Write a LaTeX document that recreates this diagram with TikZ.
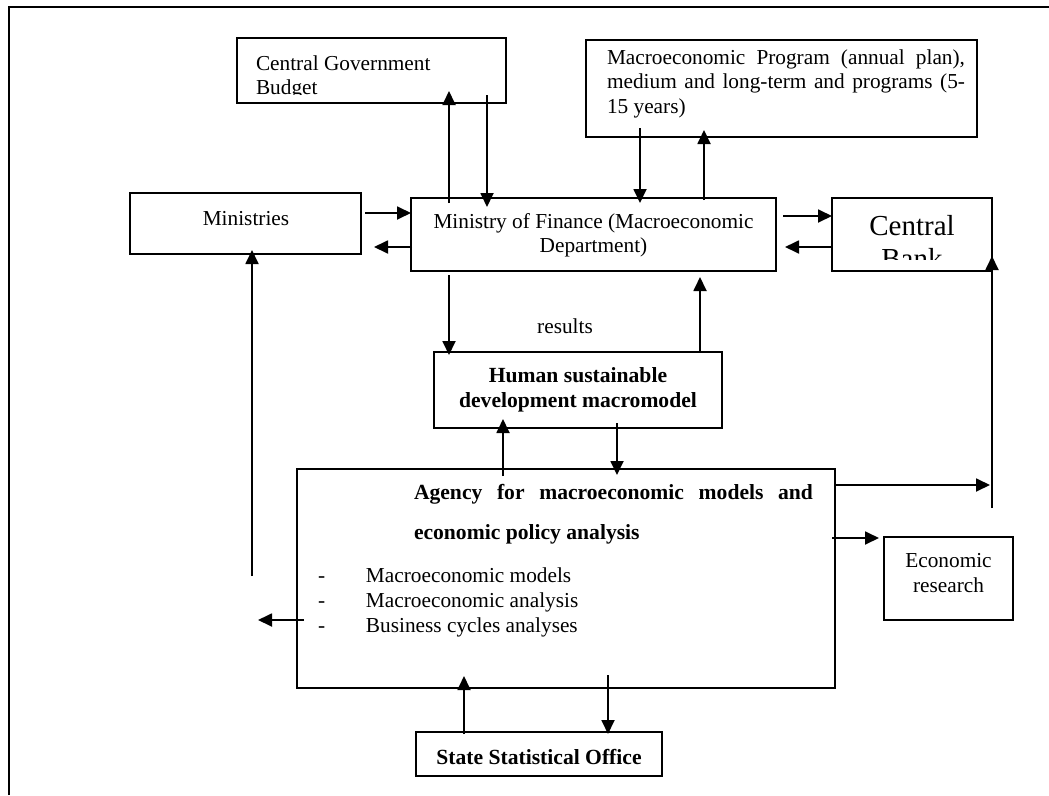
\documentclass[tikz,border=0pt]{standalone}
\usepackage{fontspec}
\setmainfont{Liberation Serif}
\usetikzlibrary{arrows.meta,calc}
\newcommand{\clines}[2]{\vtop{\baselineskip=#1pt\halign{\hfil##\hfil\cr#2\crcr}}}
\newcommand{\llines}[2]{\vtop{\baselineskip=#1pt\halign{##\hfil\cr#2\crcr}}}
\newcommand{\js}{\hskip 0.25em plus 1fil\relax}
\begin{document}
\begin{tikzpicture}[x=1pt,y=-1pt,
  box/.style={draw,line width=1.8pt,rectangle,inner sep=0pt,outer sep=0pt},
  arr/.style={line width=1.8pt,-{Triangle[length=14pt,width=13pt]}},
  txt/.style={inner sep=0pt,outer sep=0pt,font=\fontsize{21.3}{24}\selectfont},
  btxt/.style={inner sep=0pt,outer sep=0pt,font=\fontsize{21.6}{25}\selectfont\bfseries},
  bigtxt/.style={inner sep=0pt,outer sep=0pt,font=\fontsize{29}{33}\selectfont}]
\useasboundingbox (0,0) rectangle (1049,795);
% outer frame
\draw[line width=2.5pt] (9,795) -- (9,7) -- (1049,7);

% boxes
\node[box,minimum width=269pt,minimum height=65pt] (cgb) at (371.5,70.5) {};
\node[box,minimum width=391pt,minimum height=97pt] (prog) at (781.5,88.5) {};
\node[box,minimum width=231pt,minimum height=61pt] (min) at (245.5,223.5) {};
\node[box,minimum width=365pt,minimum height=73pt] (mof) at (593.5,234.5) {};
\node[box,minimum width=160pt,minimum height=73pt] (cb) at (912,234.5) {};
\node[box,minimum width=288pt,minimum height=76pt] (hsd) at (578,390) {};
\node[box,minimum width=538pt,minimum height=219pt] (agency) at (566,578.5) {};
\node[box,minimum width=129pt,minimum height=83pt] (er) at (948.5,578.5) {};
\node[box,minimum width=246pt,minimum height=44pt] (sso) at (539,754) {};

% texts
\begin{scope}
\clip (239,40) rectangle (504,94);
\node[txt,anchor=base west] (cgbt) at (256,70) {\llines{24}{Central Government\cr Budget}};
\end{scope}
\node[txt,anchor=base west] (progt) at (607,64) {\llines{24.5}{\hbox to 358pt{Macroeconomic\js Program\js (annual\js plan),}\cr \hbox to 358pt{medium\js and\js long-term\js and\js programs\js (5-}\cr 15 years)}};
\node[txt,anchor=base] (mint) at (246,225) {Ministries};
\node[txt,anchor=base] (moft) at (593.5,228) {\clines{24}{Ministry of Finance (Macroeconomic\cr Department)}};
\begin{scope}
\clip (834,200) rectangle (990,259);
\node[bigtxt,anchor=base] (cbt) at (912,235) {\clines{33}{Central\cr Bank}};
\end{scope}
\node[txt,anchor=base] (res) at (565,333) {results};
\node[btxt,anchor=base] (hsdt) at (578,382.5) {\clines{25}{Human sustainable\cr development macromodel}};
\node[btxt,anchor=base west] (agt) at (414,499) {\llines{40}{\hbox to 399pt{Agency\js for\js macroeconomic\js models\js and}\cr economic policy analysis}};
\node[txt,anchor=base west] (agl) at (318,582) {\llines{25}{\makebox[48pt][l]{-}Macroeconomic models\cr \makebox[48pt][l]{-}Macroeconomic analysis\cr \makebox[48pt][l]{-}Business cycles analyses}};
\node[txt,anchor=base] (ert) at (948.5,567) {\clines{25}{Economic\cr research}};
\node[btxt,anchor=base] (ssot) at (539,764) {State Statistical Office};

% free-end coordinates
\coordinate (tipm) at (990,485);
\coordinate (cbfoot) at (992,508);
\coordinate (lefttip) at (258,620);
\coordinate (minfoot) at (252,576);

% connectors
\draw[arr] ($(mof.north west)+(38,5)$) -- ($(cgb.south west)+(212,-12)$);
\draw[arr] ($(cgb.south west)+(250,-8)$) -- ($(mof.north west)+(76,9)$);
\draw[arr] ($(prog.south west)+(54,-9)$) -- ($(mof.north west)+(229,5)$);
\draw[arr] ($(mof.north west)+(293,2)$) -- ($(prog.south west)+(118,-7)$);
\draw[arr] ($(min.north east)+(4,20)$) -- ($(mof.north west)+(0,15)$);
\draw[arr] ($(mof.north west)+(1,49)$) -- ($(min.north east)+(13,54)$);
\draw[arr] ($(mof.north east)+(7,18)$) -- ($(cb.north west)+(0,18)$);
\draw[arr] ($(cb.north west)+(0,49)$) -- ($(mof.north east)+(9,49)$);
\draw[arr] ($(mof.south west)+(38,4)$) -- ($(hsd.north west)+(15,3)$);
\draw[arr] ($(hsd.north west)+(266,0)$) -- ($(mof.south west)+(289,6)$);
\draw[arr] ($(agency.north west)+(206,7)$) -- ($(hsd.south west)+(69,-9)$);
\draw[arr] ($(hsd.south west)+(183,-5)$) -- ($(agency.north west)+(320,6)$);
\draw[arr] ($(agency.north east)+(0,16)$) -- (tipm);
\draw[arr] (cbfoot) -- ($(cb.south east)+(0,-15)$);
\draw[arr] ($(agency.north east)+(-3,69)$) -- ($(er.north west)+(-5,1)$);
\draw[arr] ($(agency.north west)+(7,151)$) -- (lefttip);
\draw[arr] (minfoot) -- ($(min.south west)+(122,-4)$);
\draw[arr] ($(sso.north west)+(48,2)$) -- ($(agency.south west)+(167,-12)$);
\draw[arr] ($(agency.south west)+(311,-13)$) -- ($(sso.north west)+(192,2)$);
\end{tikzpicture}
\end{document}
